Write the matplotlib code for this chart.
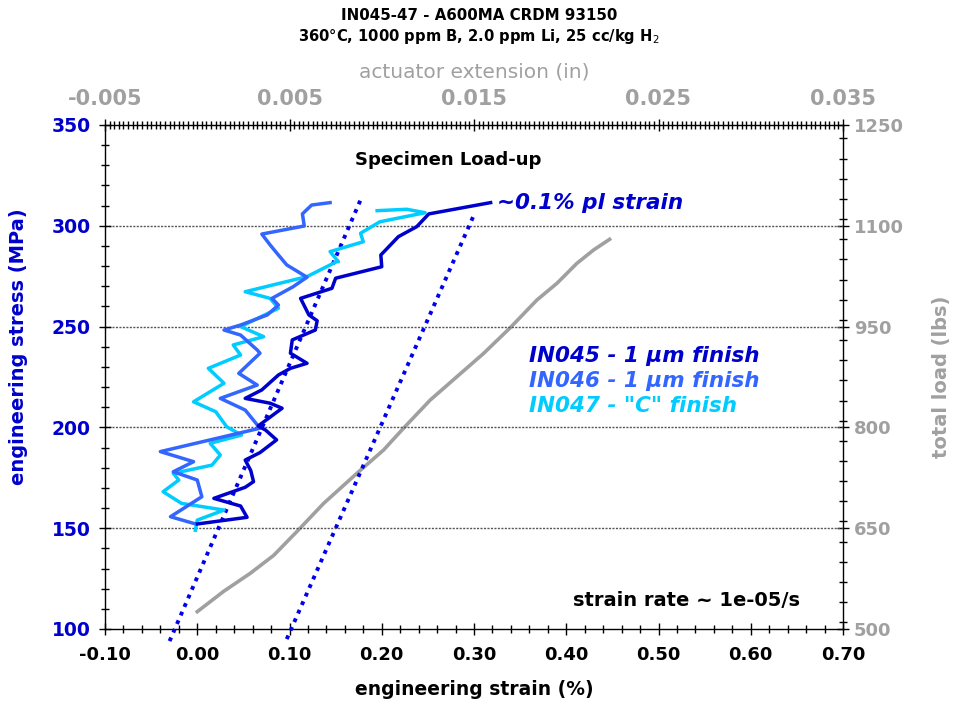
import matplotlib
matplotlib.use("Agg")
import matplotlib.pyplot as plt
from matplotlib.ticker import MultipleLocator, FixedLocator

plt.rcParams['font.family'] = ['DejaVu Sans']

# ---- data (strain %, stress MPa) ----
in045_strain = [0.000, 0.054, 0.047, 0.018, 0.052, 0.061, 0.058, 0.052, 0.068, 0.086, 0.074, 0.066,
                0.092, 0.079, 0.052, 0.070, 0.088, 0.101, 0.119, 0.101, 0.103, 0.128, 0.130, 0.121,
                0.112, 0.146, 0.150, 0.200, 0.199, 0.218, 0.238, 0.251, 0.318]
in045_stress = [152.1, 155.4, 161.0, 164.8, 170.3, 173.1, 178.6, 183.8, 187.5, 193.8, 198.7, 200.7,
                209.5, 212.0, 214.4, 218.6, 226.0, 229.3, 231.8, 236.8, 243.4, 248.3, 252.9, 255.8,
                264.0, 269.0, 274.0, 279.7, 285.5, 294.6, 299.6, 305.9, 311.5]

in046_strain = [-0.004, -0.029, 0.005, 0.000, -0.026, -0.004, -0.040, 0.068, 0.052, 0.025, 0.065,
                0.045, 0.068, 0.065, 0.047, 0.029, 0.047, 0.076, 0.088, 0.081, 0.104, 0.119, 0.097,
                0.088, 0.079, 0.070, 0.116, 0.114, 0.124, 0.144]
in046_stress = [152.4, 155.7, 165.6, 173.9, 178.0, 183.0, 188.0, 199.6, 208.6, 214.4, 221.0,
                226.8, 236.8, 238.4, 245.8, 248.3, 250.8, 255.8, 260.7, 264.0, 269.8, 274.5, 280.6,
                285.5, 290.5, 295.9, 299.9, 305.9, 310.3, 311.5]

in047_strain = [-0.002, 0.000, 0.029, -0.017, -0.037, -0.020, -0.026, 0.016, 0.025, 0.014, 0.048,
                0.032, 0.020, -0.004, 0.029, 0.012, 0.047, 0.039, 0.072, 0.047, 0.088, 0.079, 0.052,
                0.119, 0.151, 0.153, 0.144, 0.180, 0.177, 0.198, 0.247, 0.227, 0.195]
in047_stress = [149.0, 154.0, 159.0, 162.3, 168.1, 173.9, 177.2, 181.3, 186.3, 192.1, 196.2,
                200.3, 207.8, 212.7, 221.9, 229.3, 235.9, 240.9, 245.0, 250.0, 259.1, 264.0, 267.3,
                274.8, 282.2, 282.2, 287.2, 292.1, 296.3, 302.0, 306.5, 308.2, 307.5]

# elastic lines (0 and ~0.1% offset)
elastic0_strain = [-0.030, 0.177]
elastic0_stress = [94.0, 312.8]
offset_strain = [0.097, 0.301]
offset_stress = [95.0, 306.5]

# actuator extension (in) vs total load (lbs)
ext_in = [0.0, 0.00143, 0.00288, 0.00414, 0.0054, 0.00685, 0.00865, 0.0101, 0.01119, 0.01263,
          0.01408, 0.01552, 0.01697, 0.01841, 0.0195, 0.02058, 0.02148, 0.02235]
load_lbs = [525.8, 556.0, 583.0, 609.5, 645.0, 686.9, 731.6, 766.4, 799.1, 840.8,
            875.6, 910.1, 948.5, 989.6, 1014.5, 1044.2, 1064.0, 1079.9]

strain_ticks = [-0.10, 0.00, 0.10, 0.20, 0.30, 0.40, 0.50, 0.60, 0.70]
stress_ticks = [100, 150, 200, 250, 300, 350]
ext_ticks = [-0.005, 0.005, 0.015, 0.025, 0.035]
load_ticks = [500, 650, 800, 950, 1100, 1250]

c045 = '#0000CC'
c046 = '#3366FF'
c047 = '#00CCFF'
gray = '#A0A0A0'

fig = plt.figure(figsize=(9.58, 7.04), dpi=100)
rect = [105 / 958, 1 - 629 / 704, (843 - 105) / 958, (629 - 125) / 704]
ax = fig.add_axes(rect)
ax2 = fig.add_axes(rect, frameon=False)

# secondary axes: extension / load
ax2.plot(ext_in, load_lbs, color=gray, lw=2.6, zorder=2)
ax2.set_xlim(-0.005, 0.035)
ax2.set_ylim(500, 1250)
ax2.xaxis.tick_top()
ax2.yaxis.tick_right()
ax2.xaxis.set_label_position('top')
ax2.yaxis.set_label_position('right')
ax2.xaxis.set_major_locator(FixedLocator(ext_ticks))
ax2.xaxis.set_minor_locator(MultipleLocator(0.00025))
ax2.yaxis.set_major_locator(FixedLocator(load_ticks))
ax2.yaxis.set_minor_locator(MultipleLocator(30))
ax2.set_xticklabels(['%.3f' % t for t in ext_ticks])
ax2.tick_params(axis='both', which='both', direction='inout', colors='black',
                labelcolor=gray, labelsize=13)
ax2.tick_params(axis='x', labelsize=15, pad=7)
ax2.tick_params(which='major', length=9, width=1)
ax2.tick_params(which='minor', length=6, width=1)
for lab in ax2.get_xticklabels() + ax2.get_yticklabels():
    lab.set_fontweight('bold')
ax2.set_xlabel('actuator extension (in)', color=gray, fontsize=14.5, labelpad=8)
ax2.set_ylabel('total load (lbs)', color=gray, fontsize=14, fontweight='bold', labelpad=20)
ax2.patch.set_visible(False)

# main axes
ax.set_zorder(ax2.get_zorder() + 1)
ax.patch.set_visible(False)
for y in [150, 200, 250, 300]:
    ax.axhline(y, color='#555555', lw=1, ls=(0, (1.5, 1)), zorder=1)

ax.plot(elastic0_strain, elastic0_stress, color='#0000EE', lw=2.8, ls=(0, (1, 1.4)),
        dash_capstyle='butt', clip_on=False, zorder=3)
ax.plot(offset_strain, offset_stress, color='#0000EE', lw=2.8, ls=(0, (1, 1.4)),
        dash_capstyle='butt', clip_on=False, zorder=3)
ax.plot(in047_strain, in047_stress, color=c047, lw=2.5, zorder=4)
ax.plot(in046_strain, in046_stress, color=c046, lw=2.5, zorder=4)
ax.plot(in045_strain, in045_stress, color=c045, lw=2.5, zorder=5)

ax.set_xlim(-0.10, 0.70)
ax.set_ylim(100, 350)
ax.xaxis.set_major_locator(FixedLocator(strain_ticks))
ax.xaxis.set_minor_locator(MultipleLocator(0.02))
ax.yaxis.set_major_locator(FixedLocator(stress_ticks))
ax.yaxis.set_minor_locator(MultipleLocator(10))
ax.set_xticklabels(['%.2f' % t for t in strain_ticks])
ax.tick_params(axis='both', which='both', direction='inout', labelsize=13)
ax.tick_params(axis='y', labelsize=13.5)
ax.tick_params(which='major', length=9, width=1)
ax.tick_params(which='minor', length=6, width=1)
ax.tick_params(axis='y', labelcolor=c045, pad=6)
ax.tick_params(axis='x', pad=8)
for lab in ax.get_xticklabels() + ax.get_yticklabels():
    lab.set_fontweight('bold')
for s in ax.spines.values():
    s.set_color('black')
    s.set_linewidth(1)
ax.set_xlabel('engineering strain (%)', fontsize=13.5, fontweight='bold', labelpad=11)
ax.set_ylabel('engineering stress (MPa)', fontsize=14, fontweight='bold', color=c045)
ax.yaxis.set_label_coords(-0.104, 0.56)

ax.text(0.272, 332.5, 'Specimen Load-up', fontsize=13, fontweight='bold', ha='center', va='center')
ax.text(0.325, 311.3, '~0.1% pl strain', fontsize=15.5, fontweight='bold', style='italic',
        color=c045, ha='left', va='center')
ax.text(0.360, 235.3, 'IN045 - 1 µm finish', fontsize=15.5, fontweight='bold', style='italic',
        color=c045, ha='left', va='center')
ax.text(0.360, 223.0, 'IN046 - 1 µm finish', fontsize=15.5, fontweight='bold', style='italic',
        color=c046, ha='left', va='center')
ax.text(0.360, 210.6, 'IN047 - "C" finish', fontsize=15.5, fontweight='bold', style='italic',
        color=c047, ha='left', va='center')
ax.text(0.653, 114.0, 'strain rate ~ 1e-05/s', fontsize=14, fontweight='bold',
        ha='right', va='center')

fig.text(0.5, 1 - 15 / 704, 'IN045-47 - A600MA CRDM 93150', fontsize=10.8, fontweight='bold',
         ha='center', va='center')
fig.text(0.5, 1 - 36 / 704, '360°C, 1000 ppm B, 2.0 ppm Li, 25 cc/kg H$_2$', fontsize=10.6,
         fontweight='bold', ha='center', va='center')

fig.savefig('out.png', dpi=100)
